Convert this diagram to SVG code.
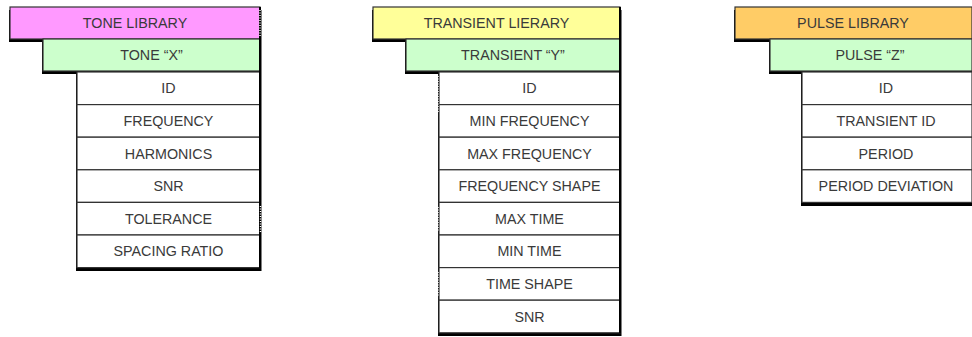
<svg xmlns="http://www.w3.org/2000/svg" width="972" height="337" viewBox="0 0 972 337">
  <style>
    .bg { fill: #ffffff; }
    .shadow { fill: #000000; }
    .box { stroke: #333333; stroke-width: 1.2; }
    .lib-tone { fill: #ff99ff; }
    .lib-trans { fill: #ffff99; }
    .lib-pulse { fill: #ffcc66; }
    .item { fill: #ccffcc; }
    .field { fill: #ffffff; }
    .edge { stroke: #000000; stroke-width: 2; fill: none; }
    .dots { stroke: #ffffff; stroke-width: 1.4; stroke-dasharray: 1 1.5; fill: none; }
    text { font-family: "Liberation Sans", Arial, sans-serif; font-size: 14.3px; fill: #3a3a3a; text-anchor: middle; dominant-baseline: central; }
  </style>
  <rect class="bg" x="0" y="0" width="972" height="337"/>

  <!-- Tone column -->
  <g id="tone-column">
    <polygon class="shadow" points="9,10 261.5,10 261.5,271 76,271 76,74 42,74 42,42 9,42"/>
    <g id="tone-library"><rect class="box lib-tone" x="10" y="7" width="250" height="32"/><text x="135" y="23">TONE LIBRARY</text></g>
    <g id="tone-x"><rect class="box item" x="43" y="39" width="217" height="32"/><text x="151.5" y="55">TONE “X”</text></g>
    <g id="tone-id"><rect class="box field" x="77" y="72" width="183" height="32.6"/><text x="168.5" y="88.3">ID</text></g>
    <g id="tone-frequency"><rect class="box field" x="77" y="104.6" width="183" height="32.6"/><text x="168.5" y="120.9">FREQUENCY</text></g>
    <g id="tone-harmonics"><rect class="box field" x="77" y="137.2" width="183" height="32.6"/><text x="168.5" y="153.5">HARMONICS</text></g>
    <g id="tone-snr"><rect class="box field" x="77" y="169.8" width="183" height="32.6"/><text x="168.5" y="186.1">SNR</text></g>
    <g id="tone-tolerance"><rect class="box field" x="77" y="202.4" width="183" height="32.6"/><text x="168.5" y="218.7">TOLERANCE</text></g>
    <g id="tone-spacing-ratio"><rect class="box field" x="77" y="235" width="183" height="32.6"/><text x="168.5" y="251.3">SPACING RATIO</text></g>
    <line class="edge" x1="260" y1="7" x2="260" y2="268"/>
    <!-- broken right border segments -->
    <line class="dots" x1="260" y1="10" x2="260" y2="36"/>
    <line class="dots" x1="260.5" y1="206" x2="260.5" y2="232"/>
  </g>

  <!-- Transient column -->
  <g id="transient-column">
    <polygon class="shadow" points="372,10 621.5,10 621.5,336 438,336 438,74 405,74 405,42 372,42"/>
    <g id="transient-library"><rect class="box lib-trans" x="373" y="7" width="247" height="32"/><text x="496.5" y="23">TRANSIENT LIERARY</text></g>
    <g id="transient-y"><rect class="box item" x="406" y="39" width="214" height="32"/><text x="513" y="55">TRANSIENT “Y”</text></g>
    <g id="transient-id"><rect class="box field" x="439" y="72" width="181" height="32.6"/><text x="529.5" y="88.3">ID</text></g>
    <g id="transient-min-frequency"><rect class="box field" x="439" y="104.6" width="181" height="32.6"/><text x="529.5" y="120.9">MIN FREQUENCY</text></g>
    <g id="transient-max-frequency"><rect class="box field" x="439" y="137.2" width="181" height="32.6"/><text x="529.5" y="153.5">MAX FREQUENCY</text></g>
    <g id="transient-frequency-shape"><rect class="box field" x="439" y="169.8" width="181" height="32.6"/><text x="529.5" y="186.1">FREQUENCY SHAPE</text></g>
    <g id="transient-max-time"><rect class="box field" x="439" y="202.4" width="181" height="32.6"/><text x="529.5" y="218.7">MAX TIME</text></g>
    <g id="transient-min-time"><rect class="box field" x="439" y="235" width="181" height="32.6"/><text x="529.5" y="251.3">MIN TIME</text></g>
    <g id="transient-time-shape"><rect class="box field" x="439" y="267.6" width="181" height="32.6"/><text x="529.5" y="283.9">TIME SHAPE</text></g>
    <g id="transient-snr"><rect class="box field" x="439" y="300.2" width="181" height="32.6"/><text x="529.5" y="316.5">SNR</text></g>
    <line class="edge" x1="620" y1="7" x2="620" y2="333"/>
    <!-- broken left border segments -->
    <line class="dots" x1="438" y1="76" x2="438" y2="112"/>
    <line class="dots" x1="438" y1="207" x2="438" y2="232"/>
    <line class="dots" x1="438" y1="272" x2="438" y2="297"/>
  </g>

  <!-- Pulse column -->
  <g id="pulse-column">
    <polygon class="shadow" points="734,10 973,10 973,206 801,206 801,74 769,74 769,42 734,42"/>
    <g id="pulse-library"><rect class="box lib-pulse" x="735" y="7" width="237" height="32"/><text x="853" y="23">PULSE LIBRARY</text></g>
    <g id="pulse-z"><rect class="box item" x="770" y="39" width="202" height="32"/><text x="870" y="55">PULSE “Z”</text></g>
    <g id="pulse-id"><rect class="box field" x="802" y="72" width="170" height="32.6"/><text x="886" y="88.3">ID</text></g>
    <g id="pulse-transient-id"><rect class="box field" x="802" y="104.6" width="170" height="32.6"/><text x="886" y="120.9">TRANSIENT ID</text></g>
    <g id="pulse-period"><rect class="box field" x="802" y="137.2" width="170" height="32.6"/><text x="886" y="153.5">PERIOD</text></g>
    <g id="pulse-period-deviation"><rect class="box field" x="802" y="169.8" width="170" height="32.6"/><text x="886" y="186.1">PERIOD DEVIATION</text></g>
  </g>
</svg>
